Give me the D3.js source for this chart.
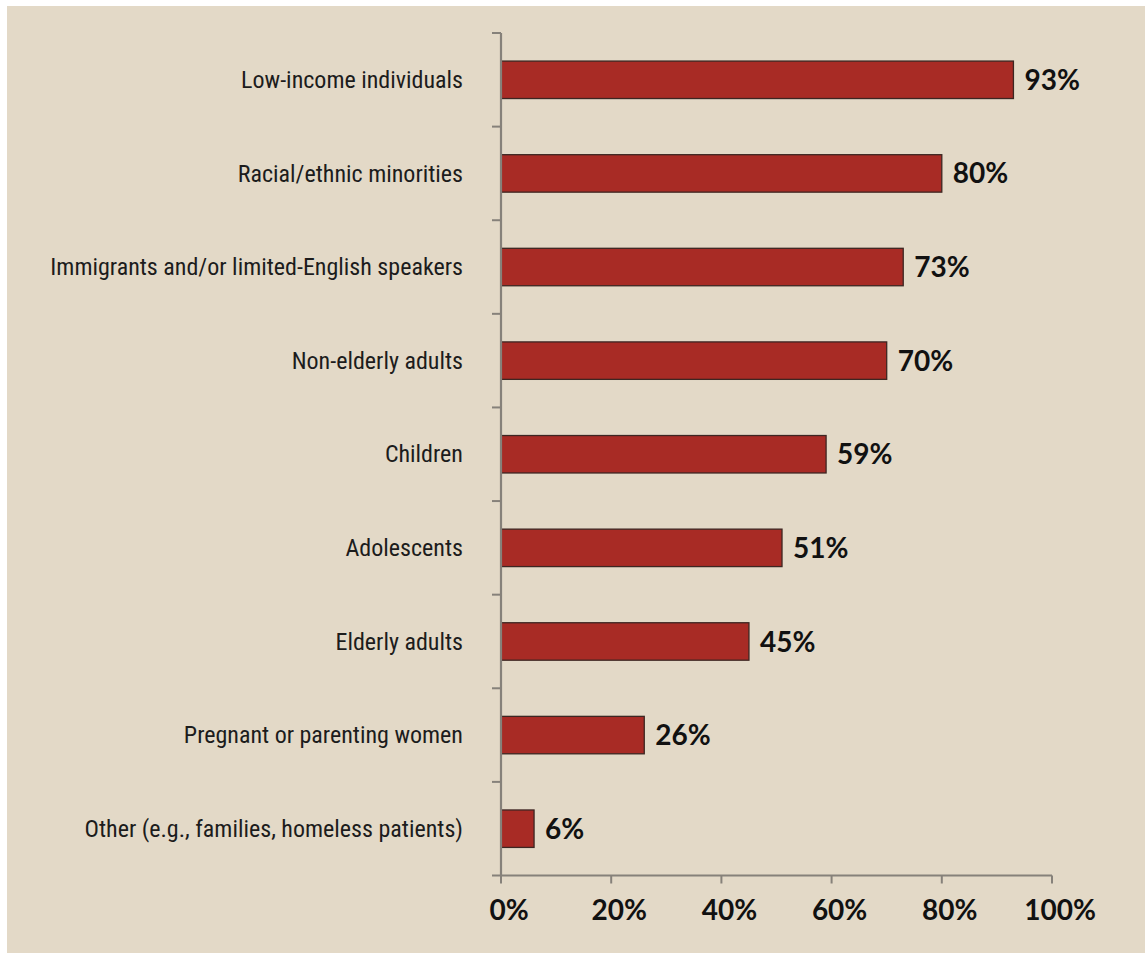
<!DOCTYPE html>
<html>
<head>
<meta charset="utf-8">
<script src="https://cdn.jsdelivr.net/npm/d3@7"></script>
<style>
  html, body { margin: 0; padding: 0; background: #ffffff; }
  svg { display: block; }
</style>
</head>
<body>
<svg id="chart" width="1145" height="953"></svg>
<script>
// Share of respondents serving each population group
const categories = [
  "Low-income individuals",
  "Racial/ethnic minorities",
  "Immigrants and/or limited-English speakers",
  "Non-elderly adults",
  "Children",
  "Adolescents",
  "Elderly adults",
  "Pregnant or parenting women",
  "Other (e.g., families, homeless patients)"
];
const values = [93, 80, 73, 70, 59, 51, 45, 26, 6];
const xTickValues = [0, 20, 40, 60, 80, 100];
const xTickLabels = ["0%", "20%", "40%", "60%", "80%", "100%"];

const svg = d3.select("#chart");
const W = 1145, H = 953;

// Panel background
svg.append("rect")
  .attr("x", 7).attr("y", 6)
  .attr("width", W - 7).attr("height", H - 6)
  .attr("fill", "#e3d9c7");

const plot = { left: 501, right: 1052, top: 33, bottom: 875.5 };

const x = d3.scaleLinear().domain([0, 100]).range([plot.left, plot.right]);
const y = d3.scaleBand()
  .domain(categories)
  .range([plot.top, plot.bottom])
  .paddingInner(0.6)
  .paddingOuter(0.3);

const axisColor = "#86817a";
const step = y.step();

// Bars
svg.append("g")
  .selectAll("rect")
  .data(values)
  .join("rect")
  .attr("x", x(0))
  .attr("y", (d, i) => y(categories[i]))
  .attr("width", d => x(d) - x(0))
  .attr("height", y.bandwidth())
  .attr("fill", "#a82b25")
  .attr("stroke", "#3d2622")
  .attr("stroke-width", 1.3);

// Value labels at bar ends
svg.append("g")
  .selectAll("text")
  .data(values)
  .join("text")
  .attr("x", d => x(d) + 11)
  .attr("y", (d, i) => y(categories[i]) + y.bandwidth() / 2)
  .attr("dy", "0.36em")
  .attr("font-family", "Lato, 'Open Sans', sans-serif")
  .attr("font-weight", 700)
  .attr("font-size", 28)
  .attr("fill", "#111")
  .text(d => d + "%");

// Left (category) axis
const yAxis = svg.append("g");
yAxis.append("line")
  .attr("x1", plot.left).attr("x2", plot.left)
  .attr("y1", plot.top).attr("y2", plot.bottom)
  .attr("stroke", axisColor).attr("stroke-width", 2.2);
yAxis.selectAll("line.tick")
  .data(d3.range(categories.length))
  .join("line")
  .attr("class", "tick")
  .attr("x1", plot.left - 9).attr("x2", plot.left)
  .attr("y1", i => plot.top + i * step)
  .attr("y2", i => plot.top + i * step)
  .attr("stroke", axisColor).attr("stroke-width", 2);
yAxis.selectAll("text")
  .data(categories)
  .join("text")
  .attr("x", plot.left - 38)
  .attr("y", d => y(d) + y.bandwidth() / 2)
  .attr("dy", "0.34em")
  .attr("text-anchor", "end")
  .attr("font-family", "'Liberation Sans Narrow', 'Roboto Condensed', 'DejaVu Sans Condensed', sans-serif")
  .attr("font-size", 24)
  .attr("fill", "#1c1c1c")
  .text(d => d);

// Bottom (percentage) axis
const xAxis = svg.append("g");
xAxis.append("line")
  .attr("x1", plot.left - 9).attr("x2", plot.right)
  .attr("y1", plot.bottom).attr("y2", plot.bottom)
  .attr("stroke", axisColor).attr("stroke-width", 2.2);
xAxis.selectAll("line.tick")
  .data(xTickValues)
  .join("line")
  .attr("class", "tick")
  .attr("x1", d => x(d)).attr("x2", d => x(d))
  .attr("y1", plot.bottom).attr("y2", plot.bottom + 8)
  .attr("stroke", axisColor).attr("stroke-width", 2);
xAxis.selectAll("text")
  .data(xTickValues)
  .join("text")
  .attr("x", d => x(d) + 8)
  .attr("y", 920)
  .attr("text-anchor", "middle")
  .attr("font-family", "Lato, 'Open Sans', sans-serif")
  .attr("font-weight", 700)
  .attr("font-size", 28)
  .attr("fill", "#111")
  .text((d, i) => xTickLabels[i]);
</script>
</body>
</html>
